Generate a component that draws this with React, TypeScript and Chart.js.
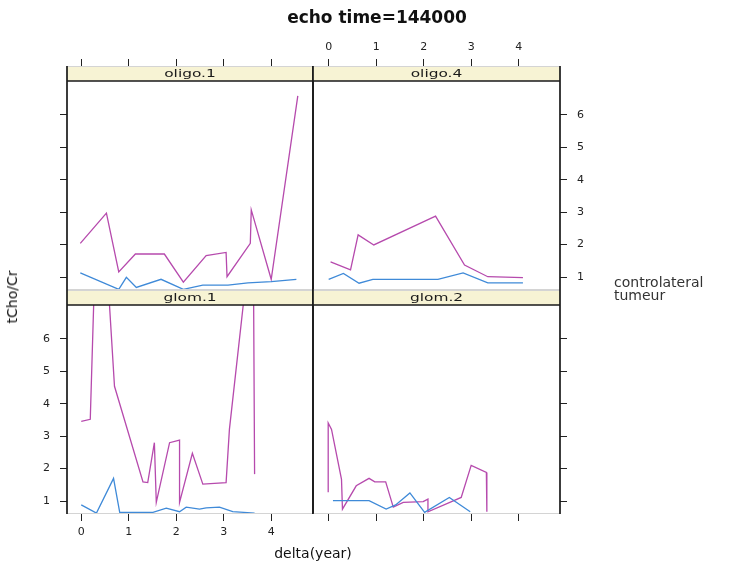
import React, { useEffect, useRef } from "react";
import { Chart, registerables } from "chart.js";
Chart.register(...registerables);

// ---------- data ----------
const titleText = "echo time=144000";
const xAxisTitle = "delta(year)";
const yAxisTitle = "tCho/Cr";
const seriesNames = ["controlateral", "tumeur"];
const panelNames = ["oligo.1", "oligo.4", "glom.1", "glom.2"];
const xTickValues = [0, 1, 2, 3, 4];
const yTickValues = [1, 2, 3, 4, 5, 6];

// oligo.1
const oligo1ContX = [-0.02, 0.79, 0.95, 1.16, 1.68, 2.15, 2.56, 3.09, 3.51, 4.0, 4.53];
const oligo1ContY = [1.13, 0.62, 0.99, 0.68, 0.93, 0.62, 0.75, 0.75, 0.82, 0.86, 0.93];
const oligo1TumX = [-0.02, 0.53, 0.79, 1.14, 1.75, 2.15, 2.63, 3.05, 3.07, 3.56, 3.58, 4.0, 4.56];
const oligo1TumY = [2.04, 2.97, 1.16, 1.71, 1.71, 0.84, 1.66, 1.76, 1.01, 2.04, 3.07, 0.93, 6.59];

// oligo.4
const oligo4ContX = [0.0, 0.31, 0.64, 0.93, 2.3, 2.83, 3.35, 4.09];
const oligo4ContY = [0.93, 1.11, 0.81, 0.93, 0.93, 1.13, 0.82, 0.82];
const oligo4TumX = [0.04, 0.46, 0.62, 0.95, 2.25, 2.86, 3.35, 4.09];
const oligo4TumY = [1.47, 1.22, 2.3, 1.99, 2.88, 1.37, 1.01, 0.98];

// glom.1
const glom1ContX = [0.0, 0.32, 0.68, 0.81, 1.51, 1.79, 2.07, 2.21, 2.49, 2.63, 2.91, 3.19, 3.65];
const glom1ContY = [0.88, 0.63, 1.7, 0.65, 0.65, 0.78, 0.67, 0.81, 0.75, 0.79, 0.81, 0.67, 0.63];
const glom1TumX = [0.0, 0.19, 0.37, 0.7, 1.3, 1.4, 1.54, 1.58, 1.86, 2.07, 2.07, 2.34, 2.56, 3.05, 3.12, 3.62, 3.65];
const glom1TumY = [3.46, 3.52, 12.4, 4.54, 1.59, 1.57, 2.8, 0.96, 2.8, 2.88, 0.96, 2.47, 1.52, 1.57, 3.21, 9.8, 1.83];

// glom.2
const glom2ContX = [0.09, 0.85, 1.21, 1.41, 1.71, 2.02, 2.54, 2.98];
const glom2ContY = [1.01, 1.01, 0.75, 0.88, 1.25, 0.65, 1.11, 0.67];
const glom2TumX = [-0.01, -0.01, 0.06, 0.27, 0.29, 0.58, 0.85, 0.97, 1.2, 1.36, 1.57, 1.99, 2.09, 2.09, 2.55, 2.79, 3.0, 3.32, 3.33];
const glom2TumY = [1.27, 3.41, 3.21, 1.67, 0.75, 1.47, 1.7, 1.59, 1.59, 0.81, 0.96, 0.98, 1.06, 0.67, 0.96, 1.11, 2.1, 1.88, 0.67];

// ---------- style / layout ----------
const W = 730;
const H = 562;
const Y_AX = 40;
const X_AX = 30;
const STRIP = 15;
const COL_CONT = "#3f8ad8";
const COL_TUM = "#b64aad";
const STRIP_BG = "#f7f3d4";
const FONT = '"DejaVu Sans", "Liberation Sans", sans-serif';
const Y_MIN = 0.6;
const Y_MAX = 7.51;

type Spec = {
  name: string;
  ca: { l: number; t: number; r: number; b: number };
  xPos: "top" | "bottom";
  yPos: "left" | "right";
  xLab: boolean;
  yLab: boolean;
  xMin: number;
  xMax: number;
  cont: [number[], number[]];
  tum: [number[], number[]];
};

const specs: Spec[] = [
  { name: panelNames[0], ca: { l: 67, t: 66, r: 313, b: 290 }, xPos: "top", yPos: "left", xLab: false, yLab: false, xMin: -0.3, xMax: 4.88, cont: [oligo1ContX, oligo1ContY], tum: [oligo1TumX, oligo1TumY] },
  { name: panelNames[1], ca: { l: 313, t: 66, r: 560, b: 290 }, xPos: "top", yPos: "right", xLab: true, yLab: true, xMin: -0.33, xMax: 4.87, cont: [oligo4ContX, oligo4ContY], tum: [oligo4TumX, oligo4TumY] },
  { name: panelNames[2], ca: { l: 67, t: 290, r: 313, b: 514 }, xPos: "bottom", yPos: "left", xLab: true, yLab: true, xMin: -0.3, xMax: 4.88, cont: [glom1ContX, glom1ContY], tum: [glom1TumX, glom1TumY] },
  { name: panelNames[3], ca: { l: 313, t: 290, r: 560, b: 514 }, xPos: "bottom", yPos: "right", xLab: false, yLab: false, xMin: -0.33, xMax: 4.87, cont: [glom2ContX, glom2ContY], tum: [glom2TumX, glom2TumY] },
];

const pts = (xs: number[], ys: number[]) => xs.map((x, i) => ({ x, y: ys[i] }));

function Panel({ spec }: { spec: Spec }) {
  const ref = useRef<HTMLCanvasElement>(null);
  useEffect(() => {
    if (!ref.current) return;
    const { ca } = spec;
    const padding = {
      left: spec.yPos === "left" ? ca.l - Y_AX : ca.l,
      right: spec.yPos === "right" ? W - ca.r - Y_AX : W - ca.r,
      top: spec.xPos === "top" ? ca.t - X_AX : ca.t,
      bottom: spec.xPos === "bottom" ? H - ca.b - X_AX : H - ca.b,
    };
    const stripPlugin = {
      id: "strip" + spec.name,
      afterDatasetsDraw(chart: any) {
        const { ctx, chartArea: a } = chart;
        ctx.save();
        ctx.fillStyle = STRIP_BG;
        ctx.fillRect(a.left, a.top, a.right - a.left, STRIP);
        ctx.save();
        ctx.fillStyle = "#1a1a1a";
        ctx.font = `11px ${FONT}`;
        ctx.textAlign = "center";
        ctx.textBaseline = "middle";
        ctx.translate((a.left + a.right) / 2, a.top + STRIP / 2 + 0.5);
        ctx.scale(1.4, 1);
        ctx.fillText(spec.name, 0, 0);
        ctx.restore();
        // faint horizontal edges
        ctx.strokeStyle = "#d4d4d4";
        ctx.lineWidth = 1;
        ctx.beginPath();
        ctx.moveTo(a.left, a.top + 0.5);
        ctx.lineTo(a.right, a.top + 0.5);
        ctx.moveTo(a.left, a.bottom - 0.5);
        ctx.lineTo(a.right, a.bottom - 0.5);
        ctx.stroke();
        // dark strip bottom + verticals
        ctx.strokeStyle = "#1a1a1a";
        ctx.lineWidth = 1.7;
        ctx.beginPath();
        ctx.moveTo(a.left, a.top + STRIP);
        ctx.lineTo(a.right, a.top + STRIP);
        ctx.moveTo(a.left, a.top);
        ctx.lineTo(a.left, a.bottom);
        ctx.moveTo(a.right, a.top);
        ctx.lineTo(a.right, a.bottom);
        ctx.stroke();
        ctx.restore();
      },
    };
    const tickFont = { family: FONT, size: 11 };
    const chart = new Chart(ref.current, {
      type: "scatter",
      data: {
        datasets: [
          { label: seriesNames[0], data: pts(spec.cont[0], spec.cont[1]), showLine: true, borderColor: COL_CONT, backgroundColor: COL_CONT, borderWidth: 1.3, pointRadius: 0 },
          { label: seriesNames[1], data: pts(spec.tum[0], spec.tum[1]), showLine: true, borderColor: COL_TUM, backgroundColor: COL_TUM, borderWidth: 1.3, pointRadius: 0 },
        ],
      },
      options: {
        responsive: false,
        animation: false,
        devicePixelRatio: 1,
        layout: { padding },
        plugins: { legend: { display: false }, tooltip: { enabled: false }, title: { display: false } },
        scales: {
          x: {
            type: "linear",
            position: spec.xPos,
            min: spec.xMin,
            max: spec.xMax,
            afterBuildTicks: (s: any) => { s.ticks = xTickValues.map((v) => ({ value: v })); },
            afterFit: (s: any) => { s.height = X_AX; },
            ticks: { display: spec.xLab, autoSkip: false, maxRotation: 0, padding: 5, color: "#222", font: tickFont, callback: (v: any) => String(v) },
            grid: { display: true, drawOnChartArea: false, drawTicks: true, tickLength: 7, color: "#222", lineWidth: 1 },
            border: { display: false },
          },
          y: {
            type: "linear",
            position: spec.yPos,
            min: Y_MIN,
            max: Y_MAX,
            afterBuildTicks: (s: any) => { s.ticks = yTickValues.map((v) => ({ value: v })); },
            afterFit: (s: any) => { s.width = Y_AX; },
            ticks: { display: spec.yLab, autoSkip: false, padding: 10, color: "#222", font: tickFont, callback: (v: any) => String(v) },
            grid: { display: true, drawOnChartArea: false, drawTicks: true, tickLength: 7, color: "#222", lineWidth: 1 },
            border: { display: false },
          },
        },
      },
      plugins: [stripPlugin],
    } as any);
    return () => chart.destroy();
  }, [spec]);
  return (
    <canvas
      ref={ref}
      width={W}
      height={H}
      style={{ position: "absolute", left: 0, top: 0, width: W, height: H }}
    />
  );
}

export default function App() {
  return (
    <div style={{ position: "absolute", left: 0, top: 0, width: W, height: H, background: "#fff", fontFamily: FONT, color: "#111", overflow: "hidden" }}>
      {specs.map((s) => (
        <Panel key={s.name} spec={s} />
      ))}
      <div style={{ position: "absolute", left: 377, top: 17, transform: "translate(-50%, -50%)", fontWeight: "bold", fontSize: 17, whiteSpace: "nowrap" }}>
        {titleText}
      </div>
      <div style={{ position: "absolute", left: 313, top: 553, transform: "translate(-50%, -50%)", fontSize: 14, whiteSpace: "nowrap" }}>
        {xAxisTitle}
      </div>
      <div style={{ position: "absolute", left: 12, top: 297, transform: "translate(-50%, -50%) rotate(-90deg)", fontSize: 14, whiteSpace: "nowrap" }}>
        {yAxisTitle}
      </div>
      <div style={{ position: "absolute", left: 614, top: 276, fontSize: 14, lineHeight: "13px", whiteSpace: "nowrap", color: "#333" }}>
        <div>{seriesNames[0]}</div>
        <div>{seriesNames[1]}</div>
      </div>
    </div>
  );
}
